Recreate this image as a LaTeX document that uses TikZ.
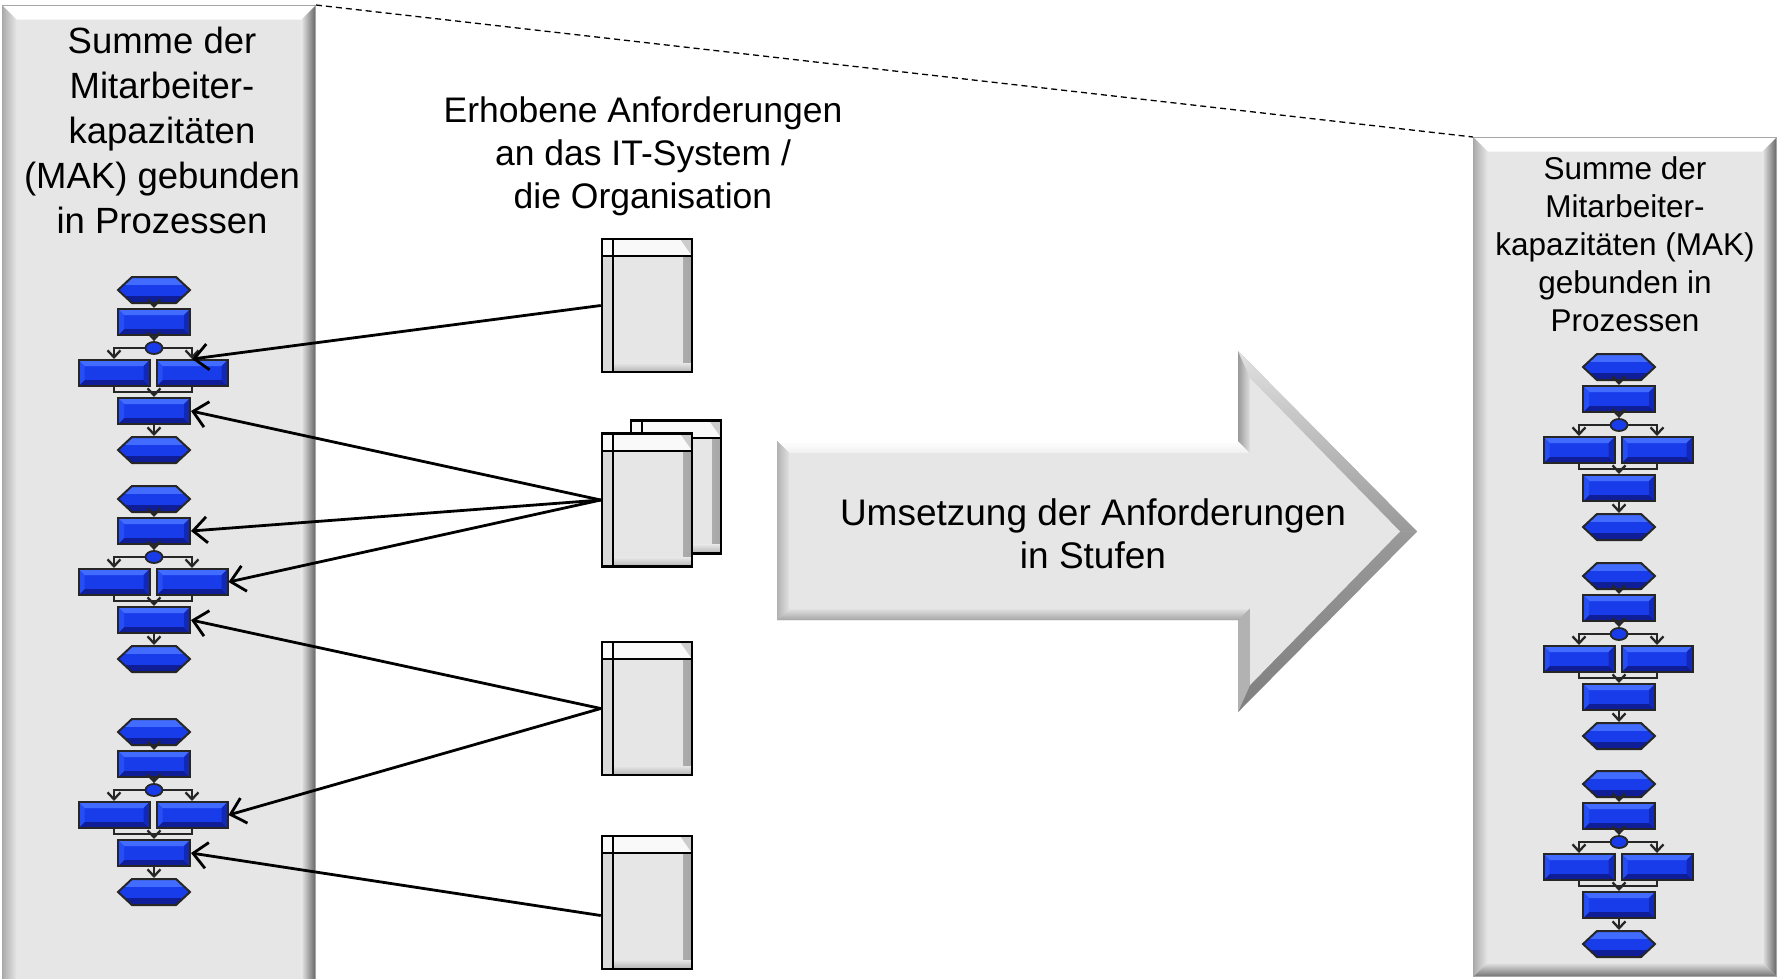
\documentclass[tikz,border=0pt]{standalone}
\usepackage{graphicx}
\usepackage{fontspec}
\setmainfont{Liberation Sans}
\usetikzlibrary{arrows.meta,shapes.symbols,shapes.geometric,calc}
\definecolor{bmain}{RGB}{25,60,235}
\definecolor{btop}{RGB}{65,108,255}
\definecolor{bbot}{RGB}{15,30,150}
\definecolor{bleft}{RGB}{38,78,245}
\definecolor{bright}{RGB}{18,40,185}
\definecolor{gmain}{RGB}{230,230,230}
\tikzset{
 bluebox/.style={rectangle, draw=black!85, line width=2pt, fill=bmain, minimum width=72pt, minimum height=26pt, inner sep=0pt,
  path picture={
   \fill[btop] (path picture bounding box.north west) -- (path picture bounding box.north east) -- ([xshift=-6pt,yshift=-6pt]path picture bounding box.north east) -- ([xshift=6pt,yshift=-6pt]path picture bounding box.north west) -- cycle;
   \fill[bbot] (path picture bounding box.south west) -- (path picture bounding box.south east) -- ([xshift=-6pt,yshift=6pt]path picture bounding box.south east) -- ([xshift=6pt,yshift=6pt]path picture bounding box.south west) -- cycle;
   \fill[bleft] (path picture bounding box.north west) -- ([xshift=6pt,yshift=-6pt]path picture bounding box.north west) -- ([xshift=6pt,yshift=6pt]path picture bounding box.south west) -- (path picture bounding box.south west) -- cycle;
   \fill[bright] (path picture bounding box.north east) -- ([xshift=-6pt,yshift=-6pt]path picture bounding box.north east) -- ([xshift=-6pt,yshift=6pt]path picture bounding box.south east) -- (path picture bounding box.south east) -- cycle;
  }},
 hexbox/.style={signal, signal to=east and west, signal pointer angle=86, draw=black!85, line width=2pt, fill=bmain, minimum width=72pt, minimum height=26pt, inner sep=0pt,
  path picture={
   \fill[btop] (path picture bounding box.north west) rectangle ([yshift=-8pt]path picture bounding box.north east);
   \fill[bbot] ([yshift=7pt]path picture bounding box.south west) rectangle (path picture bounding box.south east);
  }},
 ellnode/.style={ellipse, draw=black!85, line width=1.8pt, fill=bmain, minimum width=17pt, minimum height=12pt, inner sep=0pt},
 fa/.style={draw=black!85, line width=2.3pt, -{Straight Barb[length=7pt,width=13pt]}},
 fl/.style={draw=black!85, line width=2.3pt},
 conn/.style={draw=black, line width=2.8pt, -{Straight Barb[length=14pt,width=26pt]}},
 docbox/.style={rectangle, draw=black, line width=2.5pt, fill=gmain, minimum width=90pt, minimum height=133pt, inner sep=0pt,
  path picture={
   \shade[left color=gmain, right color=gray!70] ([xshift=-9pt]path picture bounding box.north east) rectangle (path picture bounding box.south east);
   \shade[top color=gmain, bottom color=gray!60] ([yshift=9pt]path picture bounding box.south west) rectangle (path picture bounding box.south east);
   \fill[gray!30] ([yshift=-17pt]path picture bounding box.north west) rectangle ([xshift=11pt]path picture bounding box.south west);
   \fill[gray!5] (path picture bounding box.north west) rectangle ([yshift=-17pt]path picture bounding box.north east);
   \fill[gray!40] ([xshift=-12pt]path picture bounding box.north east) -- (path picture bounding box.north east) -- ([yshift=-17pt]path picture bounding box.north east) -- cycle;
   \draw[line width=2pt] ([yshift=-17pt]path picture bounding box.north west) -- ([yshift=-17pt]path picture bounding box.north east);
   \draw[line width=2pt] ([xshift=11pt]path picture bounding box.north west) -- ([xshift=11pt]path picture bounding box.south west);
  }},
 colbox/.style={rectangle, draw=gray!70, line width=1pt, fill=gmain, inner sep=0pt, anchor=north west,
  path picture={
   \shade[top color=white, bottom color=gmain] (path picture bounding box.north west) -- (path picture bounding box.north east) -- ([xshift=-14pt,yshift=-14pt]path picture bounding box.north east) -- ([xshift=14pt,yshift=-14pt]path picture bounding box.north west) -- cycle;
   \shade[left color=gray!65, right color=gmain] (path picture bounding box.north west) -- ([xshift=14pt,yshift=-14pt]path picture bounding box.north west) -- ([xshift=14pt,yshift=14pt]path picture bounding box.south west) -- (path picture bounding box.south west) -- cycle;
   \shade[left color=gmain, right color=black!60] (path picture bounding box.north east) -- ([xshift=-14pt,yshift=-14pt]path picture bounding box.north east) -- ([xshift=-14pt,yshift=14pt]path picture bounding box.south east) -- (path picture bounding box.south east) -- cycle;
   \shade[top color=gmain, bottom color=black!55] (path picture bounding box.south west) -- ([xshift=14pt,yshift=14pt]path picture bounding box.south west) -- ([xshift=-14pt,yshift=14pt]path picture bounding box.south east) -- (path picture bounding box.south east) -- cycle;
  }},
 lbl/.style={align=center, inner sep=0pt, text=black},
}
\newcommand\flowfc[3]{%
 \begin{scope}[shift={(#2,#3)}]
  \node[hexbox] (#1-h1) at (0,0) {};
  \node[bluebox] (#1-r1) at (0,32) {};
  \node[ellnode] (#1-e) at (0,58) {};
  \node[bluebox, minimum width=71pt] (#1-l) at (-40,83) {};
  \node[bluebox, minimum width=71pt] (#1-r) at (38,83) {};
  \node[bluebox] (#1-r3) at (0,121) {};
  \node[hexbox] (#1-h2) at (0,160) {};
  \coordinate (#1-m) at (0,102);
  \draw[fa] (#1-h1) -- (#1-r1);
  \draw[fa] (#1-r1) -- (#1-e);
  \draw[fa] (#1-e.west) -| (#1-l.north);
  \draw[fa] (#1-e.east) -| (#1-r.north);
  \draw[fl] (#1-l.south) |- (#1-m) -| (#1-r.south);
  \draw[fa] (#1-m) -- (#1-r3);
  \draw[fa] (#1-r3) -- (#1-h2);
 \end{scope}}
\begin{document}
\begin{tikzpicture}[x=1pt,y=-1pt]
\useasboundingbox (0,0) rectangle (1777,978);
\clip (0,0) rectangle (1777,978);
\fill[white] (0,0) rectangle (1777,978);
% columns
\node[colbox, minimum width=313pt, minimum height=1000pt] (colL) at (2,5) {};
\node[colbox, minimum width=303pt, minimum height=839pt] (colR) at (1473,137) {};
\node[lbl, font=\fontsize{36.5}{45}\selectfont] (tL) at (162,130) {Summe der\\Mitarbeiter-\\kapazitäten\\(MAK) gebunden\\in Prozessen};
\node[lbl, font=\fontsize{31.5}{38}\selectfont] (tR) at (1625,244) {Summe der\\Mitarbeiter-\\kapazitäten (MAK)\\gebunden in\\Prozessen};
\draw[dashed, line width=1.3pt, dash pattern=on 6pt off 4pt] (colL.north east) -- (colR.north west);
% middle text
\node[lbl, font=\fontsize{35.5}{43}\selectfont] (tM) at (643,156.5) {Erhobene Anforderungen\\an das IT-System /\\die Organisation};
% documents
\node[docbox] (d1) at (647,305.5) {};
\node[docbox] (d2b) at (676,487) {};
\node[docbox] (d2) at (647,500) {};
\node[docbox] (d3) at (647,708.5) {};
\node[docbox] (d4) at (647,902.5) {};
% big arrow
\fill[gray!60] (777,441) -- (1238,441) -- (1238,351) -- (1417,531.5) -- (1238,712) -- (1238,620) -- (777,620) -- cycle;
\shade[top color=white, bottom color=black!6] (777,441) -- (1238,441) -- (1250,453) -- (789,453) -- cycle;
\shade[left color=black!40, right color=black!12] (1238,441) -- (1238,351) -- (1250,378) -- (1250,453) -- cycle;
\shade[top color=black!12, bottom color=black!40] (1238,351) -- (1417,531.5) -- (1400,531.5) -- (1250,378) -- cycle;
\shade[top color=black!40, bottom color=black!50] (1417,531.5) -- (1238,712) -- (1250,685) -- (1400,531.5) -- cycle;
\fill[black!30] (1238,712) -- (1238,620) -- (1250,608) -- (1250,685) -- cycle;
\shade[top color=gmain, bottom color=black!35] (1238,620) -- (777,620) -- (789,608) -- (1250,608) -- cycle;
\shade[left color=black!30, right color=black!12] (777,620) -- (777,441) -- (789,453) -- (789,608) -- cycle;
\fill[gmain] (789,453) -- (1250,453) -- (1250,378) -- (1400,531.5) -- (1250,685) -- (1250,608) -- (789,608) -- cycle;
\node[lbl, font=\fontsize{37}{43}\selectfont] (tA) at (1093,534) {Umsetzung der Anforderungen\\in Stufen};
% flowcharts
\flowfc{a1}{154}{290}
\flowfc{a2}{154}{499}
\flowfc{a3}{154}{732}
\flowfc{b1}{1619}{367}
\flowfc{b2}{1619}{576}
\flowfc{b3}{1619}{784}
% connectors
\draw[conn] (d1.west) -- (a1-r.north);
\draw[conn] (d2.west) -- (a1-r3.east);
\draw[conn] (d2.west) -- (a2-r1.east);
\draw[conn] (d2.west) -- (a2-r.east);
\draw[conn] (d3.west) -- (a2-r3.east);
\draw[conn] (d3.west) -- (a3-r.east);
\draw[conn] ([yshift=-13pt]d4.west) -- (a3-r3.east);
\end{tikzpicture}
\end{document}
